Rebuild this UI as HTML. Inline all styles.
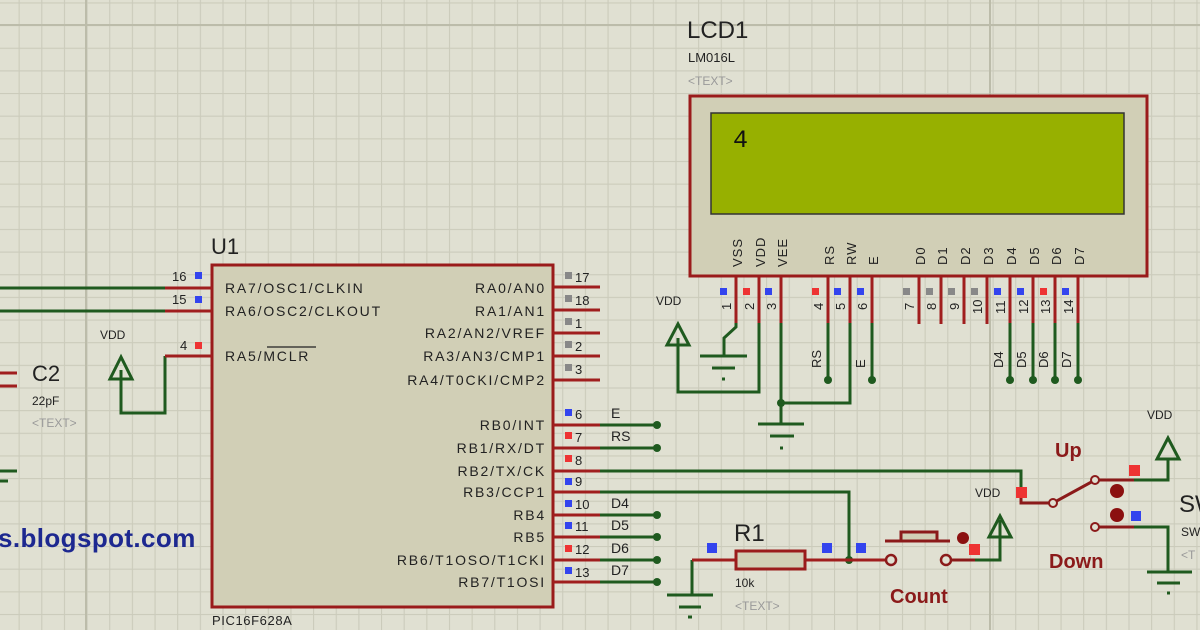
<!DOCTYPE html>
<html><head><meta charset="utf-8"><style>
html,body{margin:0;padding:0;background:#e0e0d2;}
svg{display:block;font-family:"Liberation Sans",sans-serif;}
</style></head><body>
<svg width="1200" height="630" viewBox="0 0 1200 630" xmlns="http://www.w3.org/2000/svg">
<defs>
<pattern id="g" x="18.6" y="2.4" width="22.65" height="22.65" patternUnits="userSpaceOnUse">
<path d="M0 0V22.65M0 0H22.65" stroke="#cbcbbb" stroke-width="2.2" fill="none"/>
</pattern>
</defs>
<rect width="1200" height="630" fill="#e0e0d2"/>
<rect width="1200" height="630" fill="url(#g)"/>
<path d="M86 0V630M0 25H1200M990 0V630" stroke="#bcbcaa" stroke-width="2"/>

<!-- U1 -->
<rect x="212" y="265" width="341" height="342" fill="#d1cfb6" stroke="#9a1b1b" stroke-width="3"/>
<text x="211" y="254" font-size="22" fill="#222">U1</text>
<text x="212" y="625" font-size="13" fill="#222" letter-spacing="0.6">PIC16F628A</text>
<g font-size="14" fill="#222" letter-spacing="1.8">
<text x="225" y="293">RA7/OSC1/CLKIN</text>
<text x="225" y="316">RA6/OSC2/CLKOUT</text>
<text x="225" y="361">RA5/MCLR</text>
</g>
<g font-size="14" fill="#222" letter-spacing="1.8" text-anchor="end">
<text x="546" y="293">RA0/AN0</text>
<text x="546" y="316">RA1/AN1</text>
<text x="546" y="338">RA2/AN2/VREF</text>
<text x="546" y="361">RA3/AN3/CMP1</text>
<text x="546" y="385">RA4/T0CKI/CMP2</text>
<text x="546" y="430">RB0/INT</text>
<text x="546" y="453">RB1/RX/DT</text>
<text x="546" y="476">RB2/TX/CK</text>
<text x="546" y="497">RB3/CCP1</text>
<text x="546" y="520">RB4</text>
<text x="546" y="542">RB5</text>
<text x="546" y="565">RB6/T1OSO/T1CKI</text>
<text x="546" y="587">RB7/T1OSI</text>
</g>
<path d="M267 347H316" stroke="#222" stroke-width="1.3"/>
<!-- left pins -->
<g stroke-width="3" fill="none">
<path d="M0 288H165M0 311H165M165 356V413H121V370" stroke="#1f5a1f"/>
<path d="M165 288H212M165 311H212M165 356H212" stroke="#a01e1e"/>
<path d="M553 287H600M553 310H600M553 333H600M553 356H600M553 380H600M553 425H600M553 448H600M553 471H600M553 492H600M553 515H600M553 537H600M553 560H600M553 582H600" stroke="#a01e1e"/>
<path d="M600 425H657M600 448H657M600 471H1021V492M600 492H849V560M600 515H657M600 537H657M600 560H657M600 582H657" stroke="#1f5a1f"/>
</g>
<path d="M121 357L110 379H132Z" fill="none" stroke="#1f5a1f" stroke-width="3"/>
<text x="100" y="339" font-size="12" fill="#222">VDD</text>
<g font-size="13" fill="#222">
<text x="172" y="281">16</text><text x="172" y="304">15</text><text x="180" y="350">4</text>
</g>
<rect x="195" y="272" width="7" height="7" fill="#3344ee"/>
<rect x="195" y="296" width="7" height="7" fill="#3344ee"/>
<rect x="195" y="342" width="7" height="7" fill="#ee3333"/>
<g font-size="13" fill="#222">
<text x="575" y="282">17</text><text x="575" y="305">18</text><text x="575" y="328">1</text><text x="575" y="351">2</text><text x="575" y="374">3</text>
<text x="575" y="419">6</text><text x="575" y="442">7</text><text x="575" y="465">8</text><text x="575" y="486">9</text><text x="575" y="509">10</text><text x="575" y="531">11</text><text x="575" y="554">12</text><text x="575" y="577">13</text>
</g>
<g>
<rect x="565" y="272" width="7" height="7" fill="#888"/><rect x="565" y="295" width="7" height="7" fill="#888"/><rect x="565" y="318" width="7" height="7" fill="#888"/><rect x="565" y="341" width="7" height="7" fill="#888"/><rect x="565" y="364" width="7" height="7" fill="#888"/>
<rect x="565" y="409" width="7" height="7" fill="#3344ee"/><rect x="565" y="432" width="7" height="7" fill="#ee3333"/><rect x="565" y="455" width="7" height="7" fill="#ee3333"/><rect x="565" y="478" width="7" height="7" fill="#3344ee"/><rect x="565" y="500" width="7" height="7" fill="#3344ee"/><rect x="565" y="522" width="7" height="7" fill="#3344ee"/><rect x="565" y="545" width="7" height="7" fill="#ee3333"/><rect x="565" y="567" width="7" height="7" fill="#3344ee"/>
</g>
<g font-size="14" fill="#222">
<text x="611" y="418">E</text><text x="611" y="441">RS</text><text x="611" y="508">D4</text><text x="611" y="530">D5</text><text x="611" y="553">D6</text><text x="611" y="575">D7</text>
</g>
<g fill="#1f5a1f"><circle cx="657" cy="425" r="4"/><circle cx="657" cy="448" r="4"/><circle cx="657" cy="515" r="4"/><circle cx="657" cy="537" r="4"/><circle cx="657" cy="560" r="4"/><circle cx="657" cy="582" r="4"/><circle cx="849" cy="560" r="4"/></g>

<!-- C2 left -->
<path d="M0 373H17M0 386H17" stroke="#a01e1e" stroke-width="3"/>
<path d="M0 471H17M0 481H8" stroke="#1f5a1f" stroke-width="3"/>
<text x="32" y="381" font-size="22" fill="#222">C2</text>
<text x="32" y="405" font-size="12" fill="#222">22pF</text>
<text x="32" y="427" font-size="12" fill="#999">&lt;TEXT&gt;</text>
<text x="-2" y="547" font-size="26" font-weight="bold" fill="#1d2890" letter-spacing="0.4">s.blogspot.com</text>

<!-- LCD -->
<text x="687" y="38" font-size="24" fill="#222">LCD1</text>
<text x="688" y="62" font-size="13" fill="#222">LM016L</text>
<text x="688" y="85" font-size="12" fill="#999">&lt;TEXT&gt;</text>
<rect x="690" y="96" width="457" height="180" fill="#d1cfb6" stroke="#9a1b1b" stroke-width="3"/>
<rect x="711" y="113" width="413" height="101" fill="#97b000" stroke="#333" stroke-width="1.5"/>
<text x="733" y="147" font-size="25" fill="#111" font-family="Liberation Mono,monospace">4</text>
<g font-size="13" fill="#222" letter-spacing="1">
<text transform="translate(742,267) rotate(-90)">VSS</text>
<text transform="translate(765,267) rotate(-90)">VDD</text>
<text transform="translate(787,267) rotate(-90)">VEE</text>
<text transform="translate(834,265) rotate(-90)">RS</text>
<text transform="translate(856,265) rotate(-90)">RW</text>
<text transform="translate(878,265) rotate(-90)">E</text>
<text transform="translate(925,265) rotate(-90)">D0</text>
<text transform="translate(947,265) rotate(-90)">D1</text>
<text transform="translate(970,265) rotate(-90)">D2</text>
<text transform="translate(993,265) rotate(-90)">D3</text>
<text transform="translate(1016,265) rotate(-90)">D4</text>
<text transform="translate(1039,265) rotate(-90)">D5</text>
<text transform="translate(1061,265) rotate(-90)">D6</text>
<text transform="translate(1084,265) rotate(-90)">D7</text>
</g>
<g stroke-width="3" fill="none">
<path d="M736 277V323M759 277V323M781 277V323M828 277V323M850 277V323M872 277V323M919 277V324M941 277V324M964 277V324M987 277V324M1010 277V323M1033 277V323M1055 277V323M1078 277V323" stroke="#a01e1e"/>
<path d="M736 323V327L724 338V356M700 356H747M712 368H735M722 379H725M759 323V392H678V338M781 323V424M758 424H804M770 436H794M780 448H783M781 403H850V323M828 323V380M872 323V380M1010 323V380M1033 323V380M1055 323V380M1078 323V380" stroke="#1f5a1f"/>
</g>
<path d="M678 324L667 345H689Z" fill="none" stroke="#1f5a1f" stroke-width="3"/>
<text x="656" y="305" font-size="12" fill="#222">VDD</text>
<g fill="#1f5a1f"><circle cx="781" cy="403" r="4"/><circle cx="828" cy="380" r="4"/><circle cx="872" cy="380" r="4"/><circle cx="1010" cy="380" r="4"/><circle cx="1033" cy="380" r="4"/><circle cx="1055" cy="380" r="4"/><circle cx="1078" cy="380" r="4"/></g>
<g font-size="13" fill="#222">
<text transform="translate(821,368) rotate(-90)">RS</text>
<text transform="translate(865,368) rotate(-90)">E</text>
<text transform="translate(1003,368) rotate(-90)">D4</text>
<text transform="translate(1026,368) rotate(-90)">D5</text>
<text transform="translate(1048,368) rotate(-90)">D6</text>
<text transform="translate(1071,368) rotate(-90)">D7</text>
</g>
<g font-size="13" fill="#222">
<text transform="translate(731,310) rotate(-90)">1</text><text transform="translate(754,310) rotate(-90)">2</text><text transform="translate(776,310) rotate(-90)">3</text>
<text transform="translate(823,310) rotate(-90)">4</text><text transform="translate(845,310) rotate(-90)">5</text><text transform="translate(867,310) rotate(-90)">6</text>
<text transform="translate(914,310) rotate(-90)">7</text><text transform="translate(936,310) rotate(-90)">8</text><text transform="translate(959,310) rotate(-90)">9</text>
<text transform="translate(982,314) rotate(-90)">10</text><text transform="translate(1005,314) rotate(-90)">11</text><text transform="translate(1028,314) rotate(-90)">12</text><text transform="translate(1050,314) rotate(-90)">13</text><text transform="translate(1073,314) rotate(-90)">14</text>
</g>
<g>
<rect x="720" y="288" width="7" height="7" fill="#3344ee"/><rect x="743" y="288" width="7" height="7" fill="#ee3333"/><rect x="765" y="288" width="7" height="7" fill="#3344ee"/>
<rect x="812" y="288" width="7" height="7" fill="#ee3333"/><rect x="834" y="288" width="7" height="7" fill="#3344ee"/><rect x="857" y="288" width="7" height="7" fill="#3344ee"/>
<rect x="903" y="288" width="7" height="7" fill="#888"/><rect x="926" y="288" width="7" height="7" fill="#888"/><rect x="948" y="288" width="7" height="7" fill="#888"/><rect x="971" y="288" width="7" height="7" fill="#888"/>
<rect x="994" y="288" width="7" height="7" fill="#3344ee"/><rect x="1017" y="288" width="7" height="7" fill="#3344ee"/><rect x="1040" y="288" width="7" height="7" fill="#ee3333"/><rect x="1062" y="288" width="7" height="7" fill="#3344ee"/>
</g>

<!-- R1 -->
<g stroke-width="3" fill="none">
<path d="M692 560V595M667 595H713M679 607H701M688 617H692" stroke="#1f5a1f"/>
<path d="M692 560H736M805 560H885" stroke="#a01e1e"/>
</g>
<rect x="736" y="551" width="69" height="18" fill="#d1cfb6" stroke="#9a1b1b" stroke-width="3"/>
<rect x="707" y="543" width="10" height="10" fill="#3344ee"/>
<rect x="822" y="543" width="10" height="10" fill="#3344ee"/>
<rect x="856" y="543" width="10" height="10" fill="#3344ee"/>
<text x="734" y="541" font-size="24" fill="#222">R1</text>
<text x="735" y="587" font-size="12" fill="#222">10k</text>
<text x="735" y="610" font-size="12" fill="#999">&lt;TEXT&gt;</text>

<!-- push button -->
<g stroke="#8b1a1a" stroke-width="3" fill="none">
<path d="M885 541H950"/>
<rect x="901" y="532" width="36" height="9" fill="#d1cfb6"/>
<path d="M946 560H975"/>
</g>
<circle cx="891" cy="560" r="5" fill="#e0e0d2" stroke="#8b1a1a" stroke-width="2.5"/>
<circle cx="946" cy="560" r="5" fill="#e0e0d2" stroke="#8b1a1a" stroke-width="2.5"/>
<circle cx="963" cy="538" r="6" fill="#8b1010"/>
<rect x="969" y="544" width="11" height="11" fill="#ee3333"/>
<path d="M975 560H1000V520" stroke="#1f5a1f" stroke-width="3" fill="none"/>
<path d="M1000 516L989 537H1011Z" fill="none" stroke="#1f5a1f" stroke-width="3"/>
<text x="890" y="603" font-size="20" font-weight="bold" fill="#8b1a1a">Count</text>

<!-- switch -->
<text x="975" y="497" font-size="12" fill="#222">VDD</text>
<path d="M1021 492V503H1053L1095 480H1168V462M1095 527H1168" stroke="#8b1a1a" stroke-width="3" fill="none"/>
<path d="M1134 480H1168V460M1134 527H1168V572M1147 572H1192M1157 583H1180M1167 593H1170" stroke="#1f5a1f" stroke-width="3" fill="none"/>
<path d="M1168 438L1157 459H1179Z" fill="none" stroke="#1f5a1f" stroke-width="3"/>
<text x="1147" y="419" font-size="12" fill="#222">VDD</text>
<rect x="1016" y="487" width="11" height="11" fill="#ee3333"/>
<rect x="1129" y="465" width="11" height="11" fill="#ee3333"/>
<rect x="1131" y="511" width="10" height="10" fill="#3344ee"/>
<circle cx="1053" cy="503" r="4" fill="#e0e0d2" stroke="#8b1a1a" stroke-width="2"/>
<circle cx="1095" cy="480" r="4" fill="#e0e0d2" stroke="#8b1a1a" stroke-width="2"/>
<circle cx="1095" cy="527" r="4" fill="#e0e0d2" stroke="#8b1a1a" stroke-width="2"/>
<circle cx="1117" cy="491" r="7" fill="#8b1010"/>
<circle cx="1117" cy="515" r="7" fill="#8b1010"/>
<text x="1055" y="457" font-size="20" font-weight="bold" fill="#8b1a1a">Up</text>
<text x="1049" y="568" font-size="20" font-weight="bold" fill="#8b1a1a">Down</text>
<text x="1179" y="512" font-size="24" fill="#222">SW</text>
<text x="1181" y="536" font-size="12" fill="#222">SW</text>
<text x="1181" y="559" font-size="12" fill="#999">&lt;T</text>
</svg>
</body></html>
